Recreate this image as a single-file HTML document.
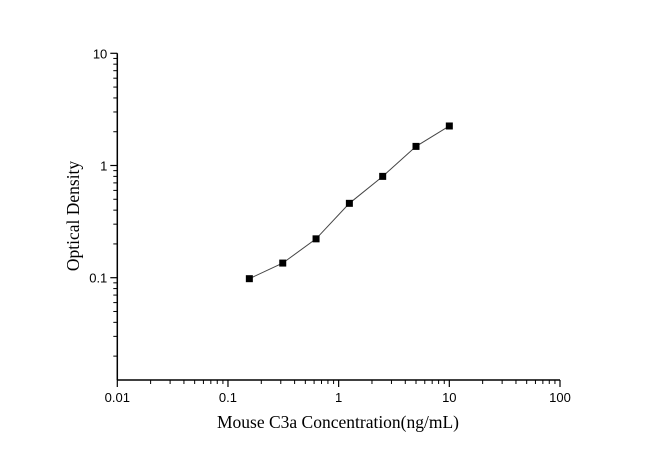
<!DOCTYPE html>
<html><head><meta charset="utf-8"><style>body{margin:0;background:#fff}svg{display:block}</style></head>
<body>
<svg id="chart" width="650" height="456" xmlns="http://www.w3.org/2000/svg"></svg>
<script>
const concentrations = [0.156, 0.3125, 0.625, 1.25, 2.5, 5, 10];
const odValues = [0.098, 0.135, 0.222, 0.46, 0.8, 1.48, 2.25];
const xTickLabels = ["0.01", "0.1", "1", "10", "100"];
const yTickLabels = ["0.1", "1", "10"];

const svg = document.getElementById('chart');
const NS = 'http://www.w3.org/2000/svg';
const X0 = 117.3, X1 = 560, Y0 = 380, Ytop = 53.3;
const xMinL = -2, xMaxL = 2;
const yTopL = 1, yDec = 112.2;
function xs(v){ return X0 + (Math.log10(v) - xMinL) / (xMaxL - xMinL) * (X1 - X0); }
function ys(v){ return Ytop + (yTopL - Math.log10(v)) * yDec; }
function mk(tag, attrs){ const e = document.createElementNS(NS, tag); for (const k in attrs) e.setAttribute(k, attrs[k]); svg.appendChild(e); return e; }

const xAxis = mk('line', {x1:X0, y1:Y0, x2:X1, y2:Y0, stroke:'#000', 'stroke-width':1.5});


const yAxis = mk('line', {x1:X0, y1:Y0, x2:X0, y2:Ytop, stroke:'#000', 'stroke-width':1.5});



for (let d = xMinL; d <= xMaxL; d++) {
  const v = Math.pow(10, d);
  const t = mk('line', {x1:xs(v), y1:Y0, x2:xs(v), y2:Y0+7, stroke:'#000', 'stroke-width':1.2});
  
  
  if (d < xMaxL) for (let m = 2; m <= 9; m++) {
    const mt = mk('line', {x1:xs(m*v), y1:Y0, x2:xs(m*v), y2:Y0+4, stroke:'#000', 'stroke-width':1});
    
    
  }
}
xTickLabels.forEach(s => {
  const t = mk('text', {x:xs(parseFloat(s)), y:Y0+22, 'text-anchor':'middle', 'font-family':'Liberation Sans, sans-serif', 'font-size':13});
  t.textContent = s;
  
  
});
const yBotL = yTopL - (Y0 - Ytop) / yDec;
for (let d = -2; d <= 1; d++) {
  const v = Math.pow(10, d);
  if (Math.log10(v) >= yBotL - 1e-9) {
    const t = mk('line', {x1:X0-7, y1:ys(v), x2:X0, y2:ys(v), stroke:'#000', 'stroke-width':1.2});
    
    
  }
  if (d < 1) for (let m = 2; m <= 9; m++) {
    if (Math.log10(m*v) < yBotL) continue;
    const mt = mk('line', {x1:X0-4, y1:ys(m*v), x2:X0, y2:ys(m*v), stroke:'#000', 'stroke-width':1});
    
    
  }
}
yTickLabels.forEach(s => {
  const t = mk('text', {x:X0-10, y:ys(parseFloat(s))+5, 'text-anchor':'end', 'font-family':'Liberation Sans, sans-serif', 'font-size':13});
  t.textContent = s;
  
  
});
const pts = concentrations.map((c,i) => xs(c).toFixed(1) + ',' + ys(odValues[i]).toFixed(1)).join(' ');
const line = mk('polyline', {points:pts, fill:'none', stroke:'#444', 'stroke-width':1});


concentrations.forEach((c,i) => {
  const r = mk('rect', {x:xs(c)-3.5, y:ys(odValues[i])-3.5, width:7, height:7, fill:'#000'});
  
  
});
const xt = mk('text', {x:338, y:428, 'text-anchor':'middle', 'font-family':'Liberation Serif, serif', 'font-size':17.5});
xt.textContent = 'Mouse C3a Concentration(ng/mL)';


const yt = mk('text', {x:0, y:0, 'text-anchor':'middle', 'font-family':'Liberation Serif, serif', 'font-size':17.5, transform:'translate(79,216) rotate(-90)'});
yt.textContent = 'Optical Density';


</script>
</body></html>
